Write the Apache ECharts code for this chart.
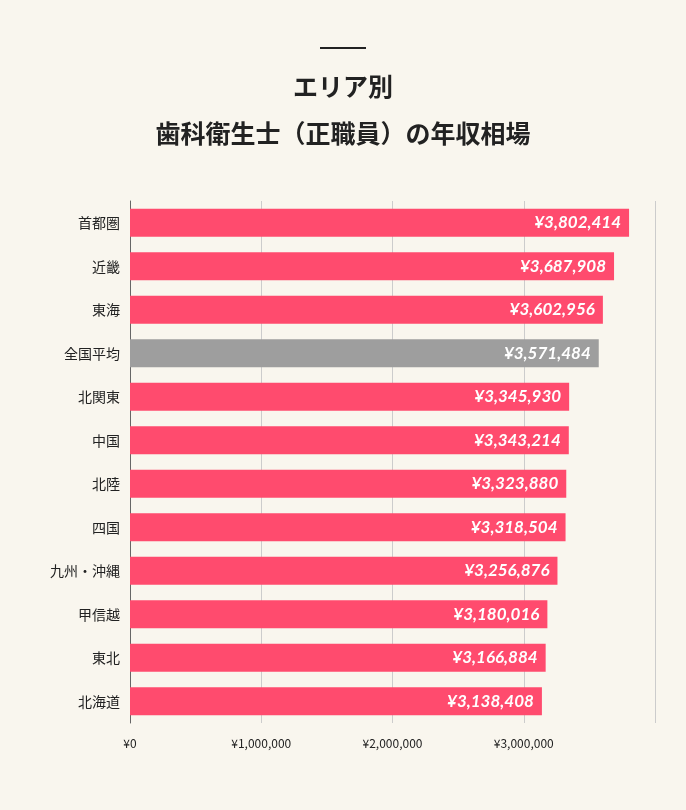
<!DOCTYPE html>
<html><head><meta charset="utf-8">
<script src="https://cdn.jsdelivr.net/npm/echarts@6/dist/echarts.min.js"></script>
<style>html,body{margin:0;background:#f9f6ee;}#c{width:686px;height:810px;}</style>
</head><body><div id="c"></div>
<script>
// areas, top to bottom
const areas = ['首都圏','近畿','東海','全国平均','北関東','中国','北陸','四国','九州・沖縄','甲信越','東北','北海道'];
const salaries = [3802414,3687908,3602956,3571484,3345930,3343214,3323880,3318504,3256876,3180016,3166884,3138408];
const highlight = '全国平均';

const chart = echarts.init(document.getElementById('c'));
const fmt = v => '¥' + v.toLocaleString('en-US');

chart.setOption({
  backgroundColor: '#f9f6ee',
  title: {
    text: 'エリア別\n歯科衛生士（正職員）の年収相場',
    left: 'center', top: 58,
    textStyle: { fontFamily: 'Noto Sans CJK JP', fontSize: 25, fontWeight: 'bold', color: '#222', lineHeight: 47 }
  },
  graphic: [{ type: 'rect', shape: { x: 320, y: 47, width: 46, height: 2 }, style: { fill: '#222' } }],
  grid: { left: 130, right: 31, top: 201, bottom: 87 },
  xAxis: {
    type: 'value', min: 0, max: 4000000, interval: 1000000,
    axisLabel: { color: '#222', fontSize: 12, fontFamily: 'Noto Sans CJK JP', margin: 14,
      formatter: v => v >= 4000000 ? '' : fmt(v) },
    splitLine: { lineStyle: { color: '#ccc' } },
    axisLine: { show: false }, axisTick: { show: false }
  },
  yAxis: {
    type: 'category', data: areas, inverse: true,
    axisLabel: { color: '#222', fontSize: 14, fontFamily: 'Noto Sans CJK JP', margin: 10 },
    axisLine: { lineStyle: { color: '#666' } }, axisTick: { show: false }
  },
  series: [{
    type: 'bar', barWidth: 28,
    data: salaries.map((v, i) => ({ value: v, itemStyle: { color: areas[i] === highlight ? '#9e9e9e' : '#ff4b6e' } })),
    label: { show: true, position: 'insideRight', formatter: p => fmt(p.value), color: '#fff',
      fontSize: 17, fontWeight: 'bold', fontStyle: 'italic', fontFamily: 'Lato', distance: 8 }
  }]
});
</script></body></html>
